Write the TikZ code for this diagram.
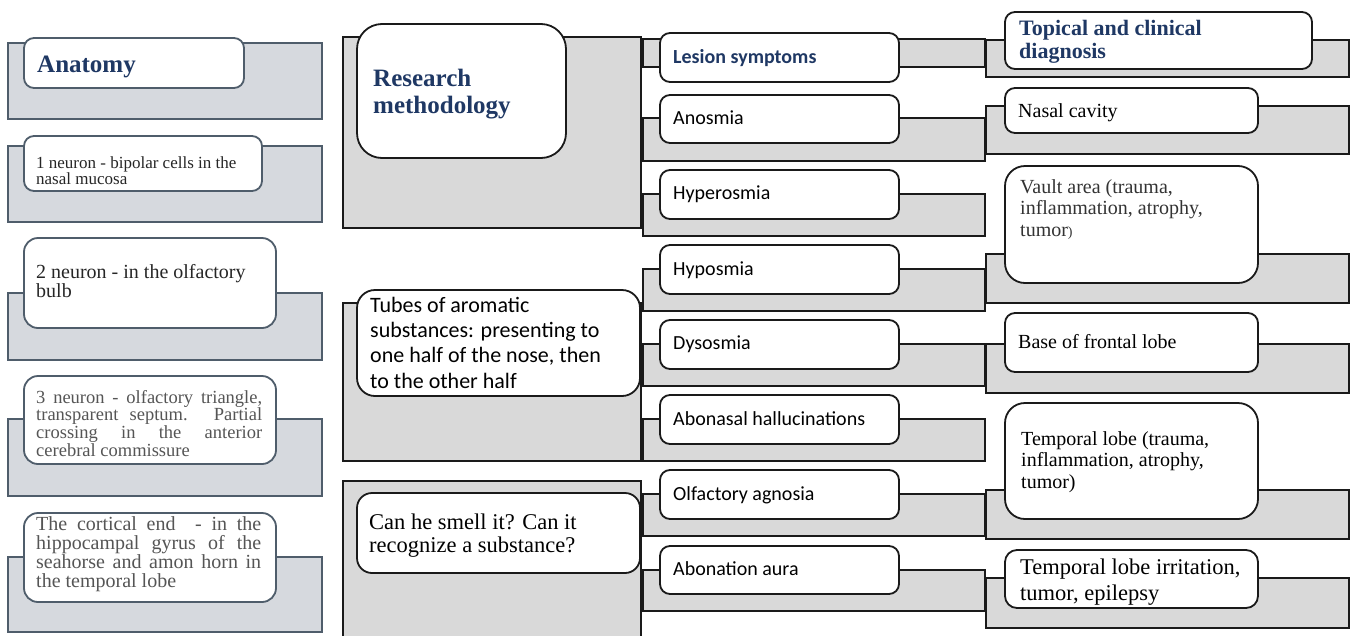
\documentclass[tikz,border=0pt]{standalone}
\usepackage{fontspec}
\setmainfont{Liberation Serif}
\newfontfamily\calfont{Carlito}
\definecolor{navy}{HTML}{1F3864}
\definecolor{slate}{HTML}{4F5D6B}
\definecolor{fillA}{HTML}{D6D9DE}
\definecolor{fillB}{HTML}{D9D9D9}
\definecolor{edge}{HTML}{1A1A1A}
\definecolor{greytext}{HTML}{555555}
\newcommand\fsz[2]{\fontsize{#1}{#2}\selectfont}
\begin{document}
\begin{tikzpicture}[x=1pt,y=-1pt,
  gA/.style={draw=slate,fill=fillA,line width=1.8pt},
  wA/.style={draw=slate,fill=white,line width=1.8pt,rounded corners=10pt},
  gB/.style={draw=edge,fill=fillB,line width=1.8pt},
  wB/.style={draw=edge,fill=white,line width=1.8pt,rounded corners=#1},
  wB/.default=10pt,
  txt/.style={inner sep=0pt,anchor=base west,align=left},
  jtxt/.style={inner sep=0pt,anchor=base west,align=justify,
    execute at begin node={\hyphenpenalty=10000\exhyphenpenalty=10000\tolerance=10000}},
]
\useasboundingbox[fill=white] (0,0) rectangle (1357,635);
% multi-line texts without text width: anchor = baseline of last line
% texts with text width: anchor = baseline of first line

% ---------- Column 1: Anatomy ----------
\draw[gA] (8,43) rectangle (322,119);
\draw[wA] (24,38) rectangle (244,88);
\node[txt,font=\bfseries\fsz{25}{27},text=navy] (anat) at (37,72) {Anatomy};

\draw[gA] (8,146) rectangle (322,222);
\draw[wA] (24,136) rectangle (262,191);
\node[txt,font=\fsz{17}{16},text=black!85] (n1) at (36,184)
  {1 neuron - bipolar cells in the\\nasal mucosa};

\draw[gA] (8,293) rectangle (322,360);
\draw[wA,rounded corners=14pt] (24,238) rectangle (276,328);
\node[txt,font=\fsz{20}{19},text=black!85] (n2) at (36,297)
  {2 neuron - in the olfactory\\bulb};

\draw[gA] (8,419) rectangle (322,496);
\draw[wA,rounded corners=14pt] (24,376) rectangle (276,464);
\node[jtxt,text width=226pt,font=\fsz{18.5}{16.7},text=greytext] (n3) at (36,403)
  {3 neuron - olfactory triangle,\linebreak transparent septum. Partial\linebreak crossing in the anterior\linebreak cerebral commissure};

\draw[gA] (8,557) rectangle (322,632);
\draw[wA,rounded corners=14pt] (24,513) rectangle (276,602);
\node[jtxt,text width=225pt,font=\fsz{20}{19.3},text=greytext] (n4) at (36,530)
  {The cortical end\ \ - in the\linebreak hippocampal gyrus of the\linebreak seahorse and amon horn in\linebreak the temporal lobe};

% ---------- Column 2: Research methodology ----------
\draw[gB] (343,37) rectangle (641,228);
\draw[wB=25pt] (357,24) rectangle (566,158);
\node[txt,font=\bfseries\fsz{25}{27},text=navy] (rm) at (373,113) {Research\\methodology};

\draw[gB] (343,303) rectangle (641,461);
\draw[wB=18pt] (357,290) rectangle (640,396);
\node[txt,font=\calfont\fsz{22}{25.3}] (tubes) at (370,388)
  {Tubes of aromatic\\substances: presenting to\\one half of the nose, then\\to the other half};

\draw[gB] (343,481) rectangle (641,640);
\draw[wB=15pt] (357,493) rectangle (640,573);
\node[txt,font=\fsz{22.5}{23}] (smell) at (369,552)
  {Can he smell it? Can it\\recognize a substance?};

% ---------- Column 3: Lesion symptoms ----------
\draw[gB] (643,39) rectangle (985,67);
\draw[wB] (660,33) rectangle (899,82);
\node[txt,font=\calfont\bfseries\fsz{20}{22},text=navy] (les) at (673,63) {Lesion symptoms};

\draw[gB] (643,118) rectangle (985,161);
\draw[wB] (660,95) rectangle (899,143);
\node[txt,font=\calfont\fsz{20}{22}] (s1) at (673,124) {Anosmia};

\draw[gB] (643,194) rectangle (985,236);
\draw[wB] (660,170) rectangle (899,219);
\node[txt,font=\calfont\fsz{20}{22}] (s2) at (673,199) {Hyperosmia};

\draw[gB] (643,269) rectangle (985,311);
\draw[wB] (660,245) rectangle (899,294);
\node[txt,font=\calfont\fsz{20}{22}] (s3) at (673,275) {Hyposmia};

\draw[gB] (643,344) rectangle (985,386);
\draw[wB] (660,320) rectangle (899,369);
\node[txt,font=\calfont\fsz{20}{22}] (s4) at (673,349) {Dysosmia};

\draw[gB] (643,419) rectangle (985,461);
\draw[wB] (660,395) rectangle (899,444);
\node[txt,font=\calfont\fsz{20}{22}] (s5) at (673,425) {Abonasal hallucinations};

\draw[gB] (643,494) rectangle (985,536);
\draw[wB] (660,470) rectangle (899,519);
\node[txt,font=\calfont\fsz{20}{22}] (s6) at (673,500) {Olfactory agnosia};

\draw[gB] (643,570) rectangle (985,611);
\draw[wB] (660,546) rectangle (899,594);
\node[txt,font=\calfont\fsz{20}{22}] (s7) at (673,575) {Abonation aura};

% ---------- Column 4: Topical and clinical diagnosis ----------
\draw[gB] (986,40) rectangle (1349,77);
\draw[wB] (1005,12) rectangle (1312,69);
\node[txt,font=\bfseries\fsz{22}{23},text=navy] (top) at (1019,58) {Topical and clinical\\diagnosis};

\draw[gB] (986,106) rectangle (1349,154);
\draw[wB] (1005,88) rectangle (1258,133);
\node[txt,font=\fsz{20}{22}] (d1) at (1018,117) {Nasal cavity};

\draw[gB] (986,254) rectangle (1349,303);
\draw[wB=20pt] (1005,166) rectangle (1258,283);
\node[txt,font=\fsz{20}{21.5},text=black!80] (d2) at (1020,236)
  {Vault area (trauma,\\inflammation, atrophy,\\tumor{\fsz{14}{14}\selectfont)}};

\draw[gB] (986,344) rectangle (1349,393);
\draw[wB] (1005,313) rectangle (1258,372);
\node[txt,font=\fsz{20}{22}] (d3) at (1018,348) {Base of frontal lobe};

\draw[gB] (986,490) rectangle (1349,539);
\draw[wB=20pt] (1005,403) rectangle (1258,519);
\node[txt,font=\fsz{20}{21.5}] (d4) at (1021,488)
  {Temporal lobe (trauma,\\inflammation, atrophy,\\tumor)};

\draw[gB] (986,578) rectangle (1349,628);
\draw[wB=12pt] (1005,550) rectangle (1258,608);
\node[txt,font=\fsz{22.5}{26}] (d5) at (1020,600)
  {Temporal lobe irritation,\\tumor, epilepsy};
\end{tikzpicture}
\end{document}
